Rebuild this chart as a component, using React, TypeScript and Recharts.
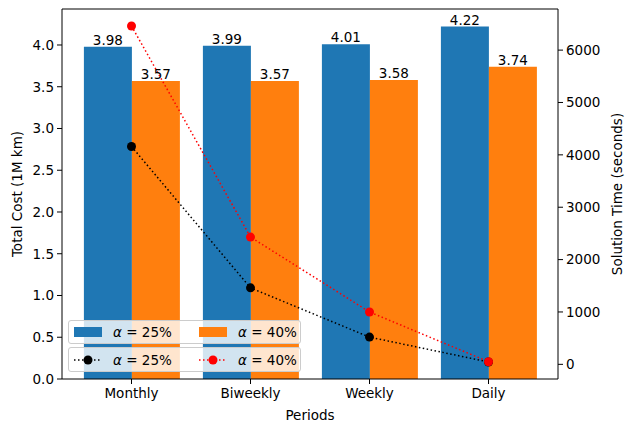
import React from 'react';
import { ComposedChart, Bar, Line, XAxis, YAxis, LabelList, ReferenceLine } from 'recharts';

// categories and values
const periods = ['Monthly', 'Biweekly', 'Weekly', 'Daily'];
const cost25 = [3.98, 3.99, 4.01, 4.22];
const cost40 = [3.57, 3.57, 3.58, 3.74];
const time25 = [4160, 1460, 520, 45];
const time40 = [6460, 2430, 1000, 50];
const alphaLabels = ['25%', '40%'];
const costTicks = [0, 0.5, 1.0, 1.5, 2.0, 2.5, 3.0, 3.5, 4.0];
const timeTicks = [0, 1000, 2000, 3000, 4000, 5000, 6000];
const costMax = 4.431;

const BLUE = '#1f77b4';
const ORANGE = '#ff7f0e';
const FONT = '"DejaVu Sans", sans-serif';
const FS = 13.5;

const data = periods.map((p, i) => ({
  period: p,
  cost25: cost25[i],
  cost40: cost40[i],
  time25: time25[i],
  time40: time40[i],
}));

const tickStyle = { fill: '#000', fontSize: FS, fontFamily: FONT };

function Alpha({ pct }: { pct: string }) {
  return (
    <span>
      <i>α</i> = {pct}
    </span>
  );
}

const legendBox: React.CSSProperties = {
  position: 'absolute',
  left: 68,
  width: 233,
  boxSizing: 'border-box',
  border: '1px solid #cccccc',
  borderRadius: 3,
  background: 'rgba(255,255,255,0.8)',
  fontFamily: FONT,
  fontSize: FS,
  color: '#000',
};

function LegendItem({ left, swatch, pct }: { left: number; swatch: React.ReactNode; pct: string }) {
  return (
    <div style={{ position: 'absolute', left, top: 0, bottom: 0, display: 'flex', alignItems: 'center' }}>
      {swatch}
      <span style={{ marginLeft: 11 }}><Alpha pct={pct} /></span>
    </div>
  );
}

function barSwatch(color: string) {
  return <div style={{ width: 28, height: 10, background: color }} />;
}

function lineSwatch(color: string) {
  return (
    <svg width={28} height={12}>
      <line x1={0} y1={6} x2={28} y2={6} stroke={color} strokeWidth={1.5} strokeDasharray="1.5 2.5" />
      <circle cx={14} cy={6} r={4.5} fill={color} />
    </svg>
  );
}

export default function App() {
  return (
    <div style={{ position: 'absolute', left: 0, top: 0, width: 631, height: 432, background: '#fff' }}>
      <ComposedChart
        width={631}
        height={432}
        data={data}
        margin={{ top: 9, right: 0, bottom: 0, left: 0 }}
        barGap={0}
        barCategoryGap="10%"
      >
        <XAxis
          dataKey="period"
          padding={{ left: 10, right: 10 }}
          height={53}
          stroke="#000"
          tickSize={5}
          tickMargin={4}
          tick={tickStyle}
          tickLine={{ stroke: '#000' }}
          label={{
            content: (props: any) => {
              const vb = props.viewBox;
              return (
                <text x={vb.x + vb.width / 2} y={vb.y + 36} textAnchor="middle" dominantBaseline="central"
                  fontSize={FS} fontFamily={FONT} fill="#000">Periods</text>
              );
            },
          }}
        />
        <YAxis
          yAxisId="left"
          width={62}
          domain={[0, costMax]}
          ticks={costTicks}
          tickFormatter={(v: number) => v.toFixed(1)}
          stroke="#000"
          tickSize={5}
          tickMargin={3}
          tick={tickStyle}
          allowDataOverflow
          label={{
            content: (props: any) => {
              const vb = props.viewBox;
              const cx = vb.x + 17;
              const cy = vb.y + vb.height / 2;
              return (
                <text x={cx} y={cy} transform={`rotate(-90 ${cx} ${cy})`} textAnchor="middle" dominantBaseline="central"
                  fontSize={FS} fontFamily={FONT} fill="#000">Total Cost (1M km)</text>
              );
            },
          }}
        />
        <YAxis
          yAxisId="right"
          orientation="right"
          width={73}
          domain={[-280, 6785]}
          ticks={timeTicks}
          stroke="#000"
          tickSize={5}
          tickMargin={3}
          tick={tickStyle}
          allowDataOverflow
          label={{
            content: (props: any) => {
              const vb = props.viewBox;
              const cx = vb.x + 59;
              const cy = vb.y + vb.height / 2;
              return (
                <text x={cx} y={cy} transform={`rotate(-90 ${cx} ${cy})`} textAnchor="middle" dominantBaseline="central"
                  fontSize={FS} fontFamily={FONT} fill="#000">Solution Time (seconds)</text>
              );
            },
          }}
        />
        {/* top spine */}
        <ReferenceLine yAxisId="left" y={costMax} stroke="#000" strokeWidth={1} ifOverflow="visible" />
        <Bar yAxisId="left" dataKey="cost25" fill={BLUE} isAnimationActive={false}>
          <LabelList dataKey="cost25" position="top" offset={2} formatter={(v: any) => Number(v).toFixed(2)}
            style={{ fill: '#000', fontSize: FS, fontFamily: FONT }} />
        </Bar>
        <Bar yAxisId="left" dataKey="cost40" fill={ORANGE} isAnimationActive={false}>
          <LabelList dataKey="cost40" position="top" offset={2} formatter={(v: any) => Number(v).toFixed(2)}
            style={{ fill: '#000', fontSize: FS, fontFamily: FONT }} />
        </Bar>
        <Line yAxisId="right" dataKey="time25" stroke="#000" strokeWidth={1.5} strokeDasharray="1.5 2.5"
          dot={{ r: 4.5, fill: '#000', stroke: 'none' }} activeDot={false} isAnimationActive={false} />
        <Line yAxisId="right" dataKey="time40" stroke="#ff0000" strokeWidth={1.5} strokeDasharray="1.5 2.5"
          dot={{ r: 4.5, fill: '#ff0000', stroke: 'none' }} activeDot={false} isAnimationActive={false} />
      </ComposedChart>

      <div style={{ ...legendBox, top: 320, height: 24 }}>
        <LegendItem left={5} swatch={barSwatch(BLUE)} pct={alphaLabels[0]} />
        <LegendItem left={130} swatch={barSwatch(ORANGE)} pct={alphaLabels[1]} />
      </div>
      <div style={{ ...legendBox, top: 347, height: 25 }}>
        <LegendItem left={5} swatch={lineSwatch('#000')} pct={alphaLabels[0]} />
        <LegendItem left={130} swatch={lineSwatch('#ff0000')} pct={alphaLabels[1]} />
      </div>
    </div>
  );
}
